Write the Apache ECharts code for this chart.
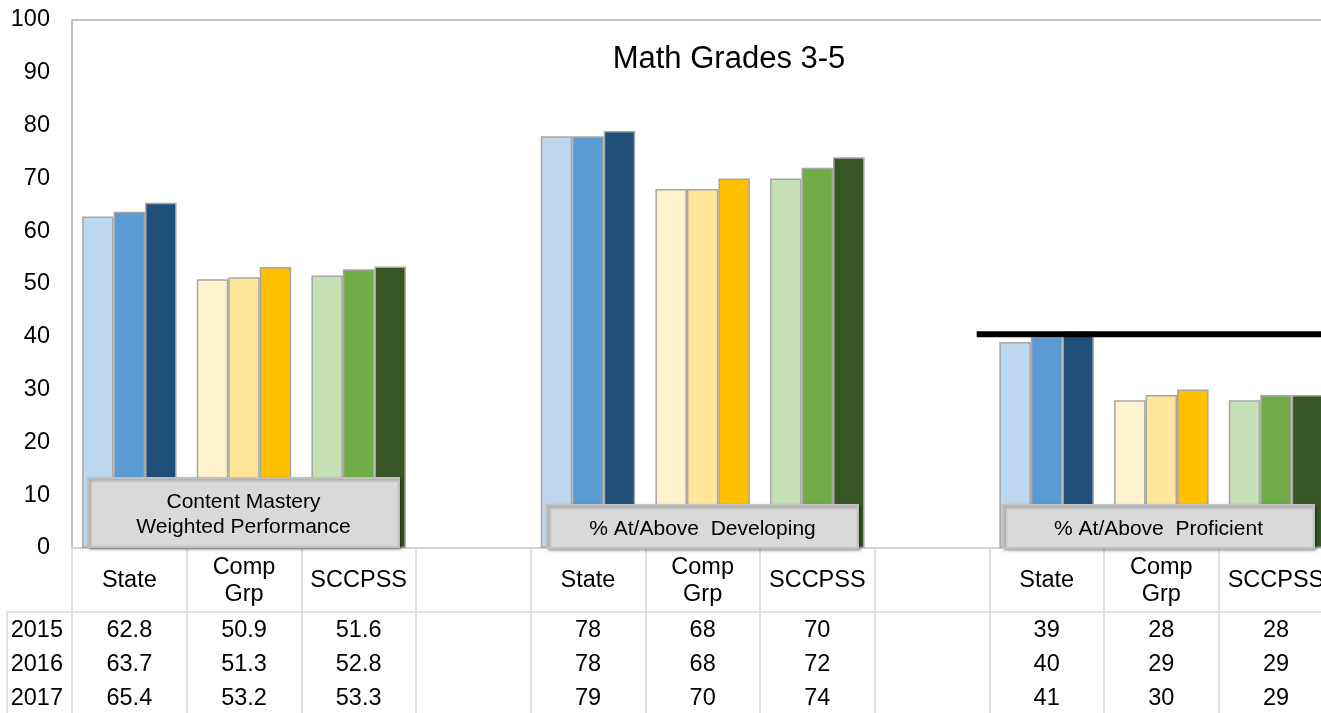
<!DOCTYPE html>
<html>
<head>
<meta charset="utf-8">
<script src="https://cdn.jsdelivr.net/npm/echarts@6/dist/echarts.min.js"></script>
<style>
html,body{margin:0;padding:0;background:#fff;}
#chart{width:1321px;height:713px;}
</style>
</head>
<body>
<div id="chart"></div>
<script>
// ---- data ----
const categories = ['State', 'Comp\nGrp', 'SCCPSS', '', 'State', 'Comp\nGrp', 'SCCPSS', '', 'State', 'Comp\nGrp', 'SCCPSS'];
const years = ['2015', '2016', '2017'];
const values2015 = [62.8, 50.9, 51.6, '-', 78, 68, 70, '-', 39, 28, 28];
const values2016 = [63.7, 51.3, 52.8, '-', 78, 68, 72, '-', 40, 29, 29];
const values2017 = [65.4, 53.2, 53.3, '-', 79, 70, 74, '-', 41, 30, 29];
const yTicks = [0, 10, 20, 30, 40, 50, 60, 70, 80, 90, 100];
const measureLabels = ['Content Mastery\nWeighted Performance', '% At/Above  Developing', '% At/Above  Proficient'];
const targetLine = [[7.89, 40.5], [11, 40.5]];
const chartTitle = 'Math Grades 3-5';

// ---- styles ----
const FONT = '"Liberation Sans", Arial, sans-serif';
const palette = {
  'State': ['#BDD7EE', '#5B9BD5', '#1F4E79'],
  'Comp\nGrp': ['#FFF2CC', '#FFE699', '#FFC000'],
  'SCCPSS': ['#C5E0B4', '#70AD47', '#375623']
};
const seriesValues = [values2015, values2016, values2017];
const tableGray = '#d9d9d9';
const TFS = 23.5;

const chart = echarts.init(document.getElementById('chart'));

const GRID = {left: 72, top: 20, width: 1261.3, height: 528};
const rowOffsets = [83, 117, 151];

const xAxes = [{
  type: 'category', gridIndex: 0, position: 'bottom', data: categories,
  axisLine: {show: true, onZero: false, lineStyle: {color: tableGray, width: 1.5}},
  axisTick: {show: true, interval: 0, length: 165, lineStyle: {color: tableGray, width: 1.5}},
  axisLabel: {interval: 0, fontFamily: FONT, fontSize: TFS, color: '#000', margin: 33, verticalAlign: 'middle', lineHeight: 27}
}];
years.forEach((y, i) => {
  const vals = seriesValues[i];
  xAxes.push({
    type: 'category', gridIndex: 0, position: 'bottom', data: categories, offset: rowOffsets[i],
    axisLine: {show: false, onZero: false}, axisTick: {show: false},
    axisLabel: {interval: 0, fontFamily: FONT, fontSize: TFS, color: '#000', margin: 0, verticalAlign: 'middle',
      formatter: (v, idx) => (vals[idx] === '-' ? '' : String(vals[idx]))},
    name: y, nameLocation: 'start', nameGap: 9,
    nameTextStyle: {fontFamily: FONT, fontSize: TFS, color: '#000', verticalAlign: 'middle', align: 'right'}
  });
});
xAxes.push({type: 'value', gridIndex: 0, position: 'bottom', min: 0, max: categories.length, show: false, axisLine: {onZero: false}});
const lineAxisIndex = xAxes.length - 1;

const series = years.map((y, i) => ({
  name: y, type: 'bar', xAxisIndex: 0, yAxisIndex: 0,
  data: seriesValues[i],
  barGap: '0%', barCategoryGap: '17.6%',
  itemStyle: {
    borderColor: '#a6a6a6', borderWidth: 1.5,
    color: (p) => (palette[categories[p.dataIndex]] || ['#fff', '#fff', '#fff'])[i]
  }
}));
series.push({
  type: 'line', xAxisIndex: lineAxisIndex, yAxisIndex: 0, data: targetLine,
  symbol: 'none', lineStyle: {color: '#000', width: 6}, z: 5, silent: true
});

// label boxes
const boxes = [
  {x: 88, y: 478, w: 311, h: 69, dy: 2},
  {x: 547, y: 505, w: 311, h: 43, dy: 3},
  {x: 1003, y: 505, w: 311, h: 43, dy: 3}
];
const graphics = [];
boxes.forEach((b, i) => {
  graphics.push({
    type: 'rect', z: 100, shape: {x: b.x, y: b.y, width: b.w, height: b.h},
    style: {fill: '#d9d9d9', stroke: '#bfbfbf', lineWidth: 2,
      shadowBlur: 3, shadowOffsetX: 1.5, shadowOffsetY: 1.5, shadowColor: 'rgba(0,0,0,0.35)'}
  });
  graphics.push({
    type: 'text', z: 101, x: b.x + b.w / 2, y: b.y + b.h / 2 + b.dy,
    style: {text: measureLabels[i], fontFamily: FONT, fontSize: 21, fill: '#000', align: 'center', verticalAlign: 'middle', lineHeight: 25}
  });
});
// table frame lines
graphics.push({type: 'line', z: 1, shape: {x1: 7, y1: 612, x2: 1321, y2: 612}, style: {stroke: tableGray, lineWidth: 1.5}});
graphics.push({type: 'line', z: 1, shape: {x1: 7, y1: 612, x2: 7, y2: 713}, style: {stroke: tableGray, lineWidth: 1.5}});
// title
graphics.push({type: 'text', z: 101, x: 729, y: 59,
  style: {text: chartTitle, fontFamily: FONT, fontSize: 31, fill: '#000', align: 'center', verticalAlign: 'middle'}});

chart.setOption({
  animation: false,
  backgroundColor: '#fff',
  grid: Object.assign({show: true, borderColor: '#b0b0b0', borderWidth: 1.5, backgroundColor: 'transparent', outerBoundsMode: 'none', containLabel: false}, GRID),
  xAxis: xAxes,
  yAxis: [{
    type: 'value', min: yTicks[0], max: yTicks[yTicks.length - 1], interval: yTicks[1] - yTicks[0],
    axisLine: {show: false}, axisTick: {show: false}, splitLine: {show: false},
    axisLabel: {fontFamily: FONT, fontSize: TFS, color: '#000', margin: 22, padding: [3, 0, 0, 0]}
  }],
  series: series,
  graphic: graphics
});
</script>
</body>
</html>
